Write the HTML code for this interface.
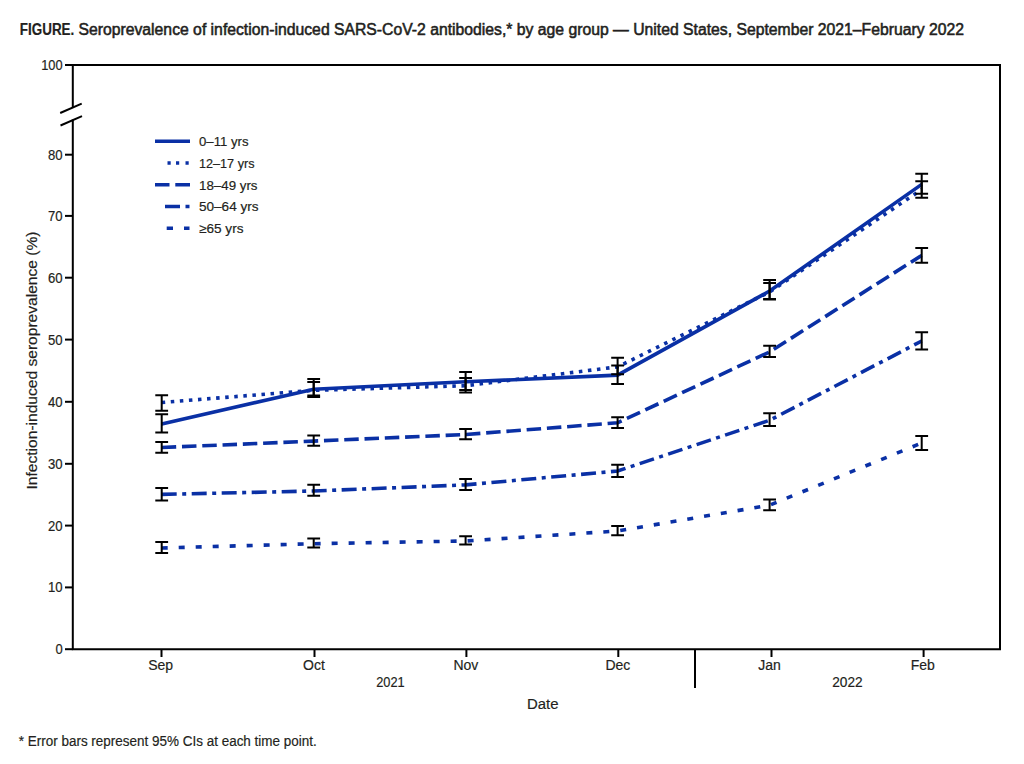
<!DOCTYPE html>
<html><head><meta charset="utf-8"><title>Seroprevalence figure</title>
<style>
html,body{margin:0;padding:0;background:#fff;}
body{width:1024px;height:764px;overflow:hidden;font-family:"Liberation Sans",sans-serif;}
svg{display:block;}
</style></head>
<body>
<svg width="1024" height="764" viewBox="0 0 1024 764">
<g stroke="#000" stroke-width="2" fill="none">
<polyline points="72.8,108 72.8,65 1000,65 1000,649.2 72.8,649.2 72.8,119.5"/>
<line x1="60.2" y1="113" x2="81.7" y2="103.7"/>
<line x1="60.5" y1="125.5" x2="82" y2="116.2"/>
<line x1="65" y1="65" x2="72.8" y2="65"/>
<line x1="65" y1="154.7" x2="72.8" y2="154.7"/>
<line x1="65" y1="215.9" x2="72.8" y2="215.9"/>
<line x1="65" y1="277.7" x2="72.8" y2="277.7"/>
<line x1="65" y1="339.6" x2="72.8" y2="339.6"/>
<line x1="65" y1="401.8" x2="72.8" y2="401.8"/>
<line x1="65" y1="463.8" x2="72.8" y2="463.8"/>
<line x1="65" y1="525.6" x2="72.8" y2="525.6"/>
<line x1="65" y1="587.4" x2="72.8" y2="587.4"/>
<line x1="65" y1="649.2" x2="72.8" y2="649.2"/>
<line x1="161.5" y1="649.2" x2="161.5" y2="657"/>
<line x1="314.5" y1="649.2" x2="314.5" y2="657"/>
<line x1="466.4" y1="649.2" x2="466.4" y2="657"/>
<line x1="618.3" y1="649.2" x2="618.3" y2="657"/>
<line x1="771.5" y1="649.2" x2="771.5" y2="657"/>
<line x1="923.6" y1="649.2" x2="923.6" y2="657"/>
<line x1="695" y1="649.2" x2="695" y2="688"/>
</g>
<g stroke="#0a30a5" stroke-width="3.6" fill="none" stroke-linejoin="miter">
<polyline points="161.7,424 313.7,389.2 465.6,381.8 617.6,375.1 769.6,291 921.7,184.4"/>
<polyline points="161.7,402.5 313.7,390.3 465.6,385.7 617.6,366.9 769.6,292 921.7,189.5" stroke-dasharray="3.5 5.6"/>
<polyline points="161.7,447.5 313.7,441.1 465.6,434.5 617.6,422.8 769.6,351.9 921.7,255.4" stroke-dasharray="14.5 5.8"/>
<polyline points="161.7,494.4 313.7,491 465.6,484.9 617.6,471 769.6,420.3 921.7,341" stroke-dasharray="15 5.5 4 5.5"/>
<polyline points="161.7,548 313.7,543.7 465.6,541 617.6,531 769.6,505.2 921.7,443" stroke-dasharray="6 11"/>
</g>
<g stroke="#000" stroke-width="2" fill="none">
<path d="M155.29999999999998,414.3H168.1M161.7,414.3V432.4M155.29999999999998,432.4H168.1"/>
<path d="M307.3,379H320.09999999999997M313.7,379V395.5M307.3,395.5H320.09999999999997"/>
<path d="M459.20000000000005,372H472.0M465.6,372V392.4M459.20000000000005,392.4H472.0"/>
<path d="M611.2,365.5H624.0M617.6,365.5V384M611.2,384H624.0"/>
<path d="M763.2,280H776.0M769.6,280V299.5M763.2,299.5H776.0"/>
<path d="M915.3000000000001,173.8H928.1M921.7,173.8V193.8M915.3000000000001,193.8H928.1"/>
<path d="M155.29999999999998,395.2H168.1M161.7,395.2V410.7M155.29999999999998,410.7H168.1"/>
<path d="M307.3,382H320.09999999999997M313.7,382V397M307.3,397H320.09999999999997"/>
<path d="M459.20000000000005,378H472.0M465.6,378V390M459.20000000000005,390H472.0"/>
<path d="M611.2,357.7H624.0M617.6,357.7V374.3M611.2,374.3H624.0"/>
<path d="M763.2,283H776.0M769.6,283V299M763.2,299H776.0"/>
<path d="M915.3000000000001,181.3H928.1M921.7,181.3V197.7M915.3000000000001,197.7H928.1"/>
<path d="M155.29999999999998,442H168.1M161.7,442V452.8M155.29999999999998,452.8H168.1"/>
<path d="M307.3,435.4H320.09999999999997M313.7,435.4V445.8M307.3,445.8H320.09999999999997"/>
<path d="M459.20000000000005,429H472.0M465.6,429V439.2M459.20000000000005,439.2H472.0"/>
<path d="M611.2,417.3H624.0M617.6,417.3V428M611.2,428H624.0"/>
<path d="M763.2,345.7H776.0M769.6,345.7V357.1M763.2,357.1H776.0"/>
<path d="M915.3000000000001,248.1H928.1M921.7,248.1V262.7M915.3000000000001,262.7H928.1"/>
<path d="M155.29999999999998,487.9H168.1M161.7,487.9V500.4M155.29999999999998,500.4H168.1"/>
<path d="M307.3,484.7H320.09999999999997M313.7,484.7V495.7M307.3,495.7H320.09999999999997"/>
<path d="M459.20000000000005,479H472.0M465.6,479V490.1M459.20000000000005,490.1H472.0"/>
<path d="M611.2,464.7H624.0M617.6,464.7V476.9M611.2,476.9H624.0"/>
<path d="M763.2,413.3H776.0M769.6,413.3V426.1M763.2,426.1H776.0"/>
<path d="M915.3000000000001,332.3H928.1M921.7,332.3V349.4M915.3000000000001,349.4H928.1"/>
<path d="M155.29999999999998,542.1H168.1M161.7,542.1V553.1M155.29999999999998,553.1H168.1"/>
<path d="M307.3,538.4H320.09999999999997M313.7,538.4V547.4M307.3,547.4H320.09999999999997"/>
<path d="M459.20000000000005,536.2H472.0M465.6,536.2V544.5M459.20000000000005,544.5H472.0"/>
<path d="M611.2,526H624.0M617.6,526V535.2M611.2,535.2H624.0"/>
<path d="M763.2,499.5H776.0M769.6,499.5V510.2M763.2,510.2H776.0"/>
<path d="M915.3000000000001,436.1H928.1M921.7,436.1V449.9M915.3000000000001,449.9H928.1"/>
</g>
<g stroke="#0a30a5" stroke-width="3.5" fill="none">
<line x1="155" y1="141.2" x2="190" y2="141.2"/>
<path d="M167.5,162.9h3.2M176,162.9h3.2M185.5,162.9h3.2"/>
<path d="M155,184.7h14.5M175.3,184.7h14.7"/>
<path d="M165,206.4h15M185.5,206.4h4"/>
<path d="M166.7,228.2h6.3M184,228.2h5.5"/>
</g>
<g fill="#231f20" font-family="Liberation Sans, sans-serif" stroke="#231f20" stroke-width="0.18">
<text x="19.8" y="34.6" font-size="16" text-anchor="start" font-weight="bold" textLength="54.5" lengthAdjust="spacingAndGlyphs">FIGURE.</text>
<text x="78.5" y="34.6" font-size="16" text-anchor="start" font-weight="normal" textLength="885.5" lengthAdjust="spacingAndGlyphs" stroke-width="0.55">Seroprevalence of infection-induced SARS-CoV-2 antibodies,* by age group — United States, September 2021–February 2022</text>
<text x="62.6" y="69.9" font-size="14" text-anchor="end" font-weight="normal" textLength="21.4" lengthAdjust="spacingAndGlyphs">100</text>
<text x="62.6" y="159.6" font-size="14" text-anchor="end" font-weight="normal" textLength="14.6" lengthAdjust="spacingAndGlyphs">80</text>
<text x="62.6" y="220.8" font-size="14" text-anchor="end" font-weight="normal" textLength="14.6" lengthAdjust="spacingAndGlyphs">70</text>
<text x="62.6" y="282.59999999999997" font-size="14" text-anchor="end" font-weight="normal" textLength="14.6" lengthAdjust="spacingAndGlyphs">60</text>
<text x="62.6" y="344.5" font-size="14" text-anchor="end" font-weight="normal" textLength="14.6" lengthAdjust="spacingAndGlyphs">50</text>
<text x="62.6" y="406.7" font-size="14" text-anchor="end" font-weight="normal" textLength="14.6" lengthAdjust="spacingAndGlyphs">40</text>
<text x="62.6" y="468.7" font-size="14" text-anchor="end" font-weight="normal" textLength="14.6" lengthAdjust="spacingAndGlyphs">30</text>
<text x="62.6" y="530.5" font-size="14" text-anchor="end" font-weight="normal" textLength="14.6" lengthAdjust="spacingAndGlyphs">20</text>
<text x="62.6" y="592.3" font-size="14" text-anchor="end" font-weight="normal" textLength="14.6" lengthAdjust="spacingAndGlyphs">10</text>
<text x="62.6" y="654.1" font-size="14" text-anchor="end" font-weight="normal" textLength="7.2" lengthAdjust="spacingAndGlyphs">0</text>
<text x="160.6" y="670.4" font-size="14" text-anchor="middle" font-weight="normal">Sep</text>
<text x="313.9" y="670.4" font-size="14" text-anchor="middle" font-weight="normal">Oct</text>
<text x="465.9" y="670.4" font-size="14" text-anchor="middle" font-weight="normal">Nov</text>
<text x="617.9" y="670.4" font-size="14" text-anchor="middle" font-weight="normal">Dec</text>
<text x="769.5" y="670.4" font-size="14" text-anchor="middle" font-weight="normal">Jan</text>
<text x="922.8" y="670.4" font-size="14" text-anchor="middle" font-weight="normal">Feb</text>
<text x="390.4" y="687.1" font-size="14" text-anchor="middle" font-weight="normal" textLength="28.5" lengthAdjust="spacingAndGlyphs">2021</text>
<text x="847.5" y="687.4" font-size="14" text-anchor="middle" font-weight="normal" textLength="30.5" lengthAdjust="spacingAndGlyphs">2022</text>
<text x="542.8" y="708.6" font-size="15.5" text-anchor="middle" font-weight="normal" textLength="31.5" lengthAdjust="spacingAndGlyphs">Date</text>
<text transform="translate(37.2,360.5) rotate(-90)" x="0" y="0" font-size="15" text-anchor="middle" textLength="258" lengthAdjust="spacingAndGlyphs">Infection-induced seroprevalence (%)</text>
<text x="199" y="145.9" font-size="13" text-anchor="start" font-weight="normal" textLength="49.5" lengthAdjust="spacingAndGlyphs">0–11 yrs</text>
<text x="199" y="167.7" font-size="13" text-anchor="start" font-weight="normal" textLength="55.5" lengthAdjust="spacingAndGlyphs">12–17 yrs</text>
<text x="199" y="189.5" font-size="13" text-anchor="start" font-weight="normal" textLength="58.5" lengthAdjust="spacingAndGlyphs">18–49 yrs</text>
<text x="199" y="211.3" font-size="13" text-anchor="start" font-weight="normal" textLength="59.5" lengthAdjust="spacingAndGlyphs">50–64 yrs</text>
<text x="199" y="233.1" font-size="13" text-anchor="start" font-weight="normal" textLength="44.5" lengthAdjust="spacingAndGlyphs">≥65 yrs</text>
<text x="18.75" y="746.25" font-size="14" text-anchor="start" font-weight="normal" textLength="298" lengthAdjust="spacingAndGlyphs">* Error bars represent 95% CIs at each time point.</text>
</g>
</svg>
</body></html>
